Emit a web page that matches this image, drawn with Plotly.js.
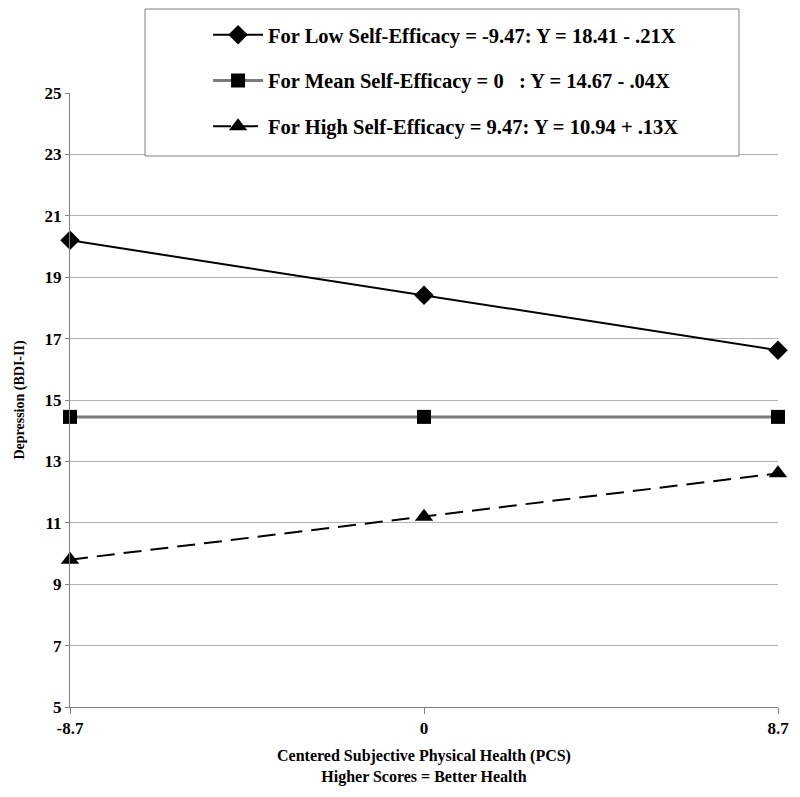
<!DOCTYPE html>
<html>
<head>
<meta charset="utf-8">
<script src="https://cdn.plot.ly/plotly-3.0.1.min.js"></script>
<style>html,body{margin:0;padding:0;background:#fff;}#chart{width:800px;height:797px;}</style>
</head>
<body>
<div id="chart"></div>
<script>
// Data
const xValues = [-8.7, 0, 8.7];
const xTickLabels = ['-8.7', '0', '8.7'];
const lowSE = [20.20, 18.41, 16.62];
const meanSE = [14.45, 14.45, 14.45];
const highSE = [9.80, 11.20, 12.61];
const seriesNames = [
  'For Low Self-Efficacy = -9.47: Y = 18.41 - .21X',
  'For Mean Self-Efficacy = 0&nbsp;&nbsp;&nbsp;: Y = 14.67 - .04X',
  'For High Self-Efficacy = 9.47: Y = 10.94 + .13X'
];
const yTicks = [5, 7, 9, 11, 13, 15, 17, 19, 21, 23, 25];

const font = '"Liberation Serif", "Times New Roman", serif';

const traces = [
  {x: xValues, y: lowSE, name: seriesNames[0], mode: 'lines+markers', legendgroup: 'a',
   line: {color: '#000', width: 2}, marker: {symbol: 'diamond', size: 15, color: '#000'}, cliponaxis: false},
  {x: xValues, y: meanSE, name: seriesNames[1], mode: 'lines+markers', legendgroup: 'b',
   line: {color: '#7a7a7a', width: 3}, marker: {symbol: 'square', size: 14, color: '#000'}, cliponaxis: false},
  {x: xValues, y: highSE, name: seriesNames[2], mode: 'lines+markers', legendgroup: 'c',
   line: {color: '#000', width: 2, dash: '18px,9px'}, marker: {symbol: 'triangle-up', size: 16, color: '#000'}, cliponaxis: false}
];

const layout = {
  width: 800, height: 797,
  paper_bgcolor: '#fff', plot_bgcolor: '#fff',
  margin: {l: 70, r: 22, t: 93, b: 90},
  font: {family: font, color: '#000'},
  showlegend: true,
  legend: {
    x: 0.195, y: 1.127, xanchor: 'left', yanchor: 'top',
    bgcolor: 'rgba(0,0,0,0)', borderwidth: 0,
    font: {family: font, size: 20.5, color: '#000', weight: 'bold'},
    tracegroupgap: 16, itemwidth: 50
  },
  shapes: [
    {type: 'rect', xref: 'paper', yref: 'paper', layer: 'above',
     x0: (145 - 70) / 708, x1: (739 - 70) / 708, y0: (707 - 9) / 614, y1: (707 - 156) / 614,
     fillcolor: '#fff', line: {color: '#808080', width: 1}}
  ],
  xaxis: {
    range: [-8.7, 8.7], tickmode: 'array', tickvals: xValues, ticktext: xTickLabels,
    showgrid: false, zeroline: false, showline: true, linecolor: '#808080', linewidth: 1,
    ticks: 'outside', ticklen: 6, tickcolor: '#808080',
    tickfont: {family: font, size: 17, weight: 'bold'},
    title: {text: 'Centered Subjective Physical Health (PCS)<br>Higher Scores = Better Health',
            font: {family: font, size: 16, weight: 'bold'}, standoff: 12}
  },
  yaxis: {
    range: [5, 25], tickmode: 'array', tickvals: yTicks,
    showgrid: true, gridcolor: '#b4b4b4', gridwidth: 1, zeroline: false,
    showline: true, linecolor: '#808080', linewidth: 1,
    ticks: 'outside', ticklen: 4, tickcolor: '#808080',
    tickfont: {family: font, size: 17, weight: 'bold'},
    title: {text: 'Depression (BDI-II)', font: {family: font, size: 14, weight: 'bold'}, standoff: 16}
  }
};

Plotly.newPlot('chart', traces, layout, {displayModeBar: false, staticPlot: true});
</script>
</body>
</html>
